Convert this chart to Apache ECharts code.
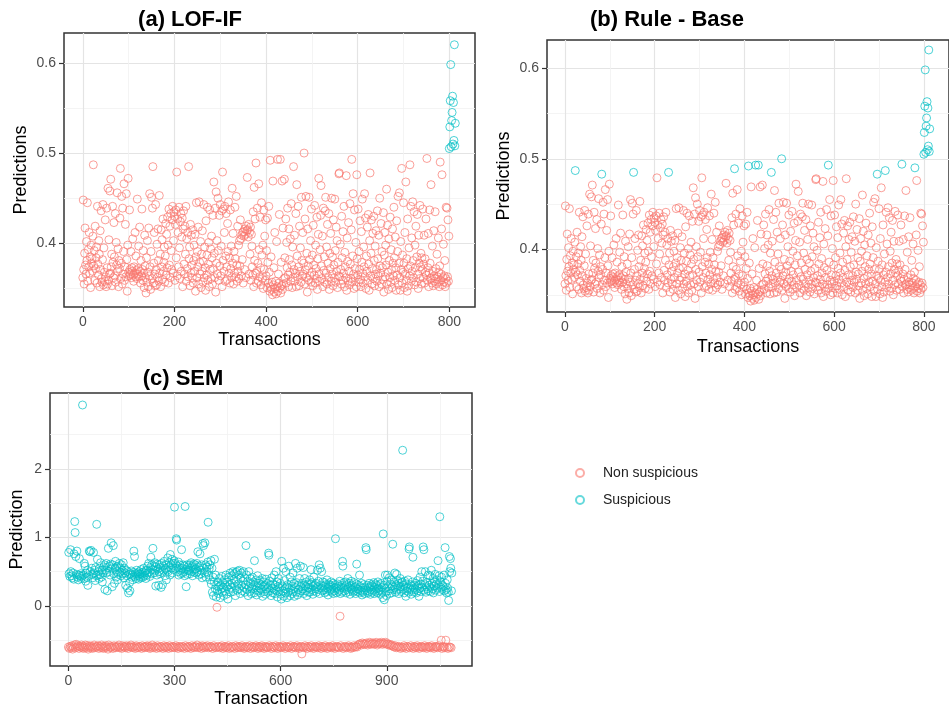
<!DOCTYPE html>
<html lang="en">
<head>
<meta charset="UTF-8">
<title>Transaction predictions</title>
<script src="https://cdn.jsdelivr.net/npm/echarts@6.0.0/dist/echarts.min.js"></script>
<style>
  html, body { margin: 0; padding: 0; background: #fff; }
  #chart { width: 949px; height: 713px; }
</style>
</head>
<body>
<div id="chart"></div>
<script>
// predictions per transaction, x = transaction index (same scores in panels a and b)
var lofPred = [
  0.362,0.448,0.371,0.355,0.389,0.417,0.376,0.366,0.402,0.381,0.445,0.358,0.393,0.374,0.412,0.367,0.385,0.351,0.398,0.378,
  0.383,0.369,0.408,0.487,0.375,0.392,0.359,0.419,0.372,0.384,0.396,0.356,0.441,0.377,0.365,0.403,0.388,0.352,0.414,0.371,
  0.436,0.361,0.357,0.382,0.443,0.354,0.395,0.368,0.358,0.426,0.363,0.352,0.439,0.373,0.355,0.461,0.359,0.404,0.366,0.458,
  0.367,0.471,0.374,0.388,0.353,0.441,0.379,0.362,0.423,0.385,0.364,0.433,0.357,0.401,0.376,0.456,0.369,0.394,0.352,0.381,
  0.372,0.428,0.483,0.361,0.378,0.452,0.355,0.439,0.366,0.391,0.466,0.359,0.374,0.421,0.363,0.455,0.382,0.347,0.398,0.472,
  0.368,0.364,0.437,0.371,0.366,0.391,0.362,0.373,0.369,0.405,0.365,0.358,0.374,0.367,0.412,0.363,0.386,0.37,0.361,0.449,
  0.366,0.372,0.397,0.363,0.418,0.369,0.356,0.381,0.364,0.438,0.371,0.359,0.392,0.367,0.351,0.409,0.375,0.362,0.345,0.384,
  0.357,0.403,0.368,0.352,0.417,0.364,0.455,0.374,0.349,0.391,0.451,0.361,0.439,0.485,0.356,0.378,0.412,0.366,0.353,0.443,
  0.371,0.354,0.399,0.362,0.416,0.381,0.358,0.453,0.367,0.388,0.352,0.415,0.374,0.404,0.36,0.427,0.369,0.379,0.396,0.357,
  0.386,0.422,0.365,0.41,0.373,0.429,0.398,0.356,0.438,0.376,0.419,0.362,0.433,0.392,0.371,0.426,0.441,0.367,0.403,0.435,
  0.43,0.359,0.421,0.437,0.384,0.479,0.364,0.427,0.412,0.374,0.44,0.395,0.361,0.424,0.433,0.369,0.407,0.428,0.352,0.416,
  0.436,0.377,0.366,0.419,0.388,0.441,0.358,0.405,0.372,0.412,0.363,0.485,0.383,0.396,0.353,0.421,0.367,0.409,0.376,0.362,
  0.415,0.356,0.381,0.398,0.369,0.41,0.347,0.385,0.445,0.362,0.391,0.374,0.418,0.355,0.446,0.379,0.366,0.402,0.351,0.388,
  0.369,0.414,0.357,0.38,0.443,0.362,0.396,0.373,0.348,0.425,0.365,0.387,0.44,0.359,0.377,0.401,0.352,0.437,0.371,0.394,
  0.361,0.408,0.384,0.355,0.431,0.372,0.468,0.389,0.362,0.439,0.346,0.457,0.378,0.403,0.366,0.45,0.392,0.359,0.431,0.375,
  0.443,0.364,0.397,0.436,0.352,0.479,0.381,0.438,0.369,0.412,0.441,0.358,0.386,0.433,0.374,0.36,0.422,0.391,0.446,0.367,
  0.384,0.356,0.437,0.372,0.397,0.362,0.461,0.378,0.411,0.355,0.391,0.367,0.44,0.383,0.363,0.452,0.376,0.358,0.419,0.369,
  0.398,0.361,0.403,0.375,0.426,0.405,0.364,0.409,0.382,0.412,0.356,0.413,0.408,0.371,0.416,0.41,0.362,0.419,0.414,0.473,
  0.415,0.407,0.421,0.366,0.412,0.388,0.418,0.359,0.41,0.397,0.374,0.365,0.435,0.352,0.462,0.381,0.427,0.367,0.489,0.356,
  0.369,0.439,0.378,0.358,0.466,0.393,0.363,0.429,0.373,0.354,0.445,0.387,0.361,0.398,0.35,0.437,0.371,0.408,0.359,0.426,
  0.364,0.392,0.351,0.428,0.379,0.356,0.441,0.368,0.347,0.492,0.352,0.385,0.349,0.357,0.343,0.469,0.354,0.373,0.346,0.412,
  0.35,0.358,0.344,0.402,0.352,0.493,0.347,0.366,0.356,0.432,0.351,0.493,0.345,0.379,0.353,0.469,0.349,0.417,0.355,0.361,
  0.471,0.384,0.362,0.427,0.356,0.401,0.373,0.439,0.365,0.352,0.416,0.382,0.368,0.405,0.358,0.444,0.376,0.351,0.396,0.362,
  0.485,0.371,0.409,0.358,0.367,0.433,0.352,0.465,0.386,0.363,0.441,0.374,0.353,0.419,0.369,0.395,0.357,0.451,0.381,0.364,
  0.412,0.366,0.378,0.5,0.355,0.427,0.371,0.452,0.362,0.389,0.346,0.416,0.375,0.359,0.451,0.382,0.364,0.403,0.357,0.438,
  0.368,0.387,0.353,0.42,0.376,0.365,0.442,0.356,0.398,0.372,0.361,0.429,0.349,0.383,0.41,0.472,0.366,0.358,0.393,0.431,
  0.464,0.375,0.361,0.408,0.352,0.439,0.37,0.385,0.357,0.436,0.451,0.367,0.396,0.355,0.421,0.378,0.362,0.433,0.349,0.389,
  0.372,0.411,0.358,0.45,0.366,0.385,0.353,0.426,0.376,0.362,0.449,0.392,0.357,0.418,0.369,0.403,0.351,0.379,0.364,0.477,
  0.478,0.363,0.399,0.371,0.355,0.43,0.384,0.359,0.413,0.367,0.441,0.352,0.39,0.374,0.362,0.475,0.348,0.406,0.38,0.358,
  0.423,0.369,0.354,0.444,0.377,0.361,0.415,0.493,0.357,0.386,0.455,0.366,0.35,0.437,0.372,0.362,0.401,0.352,0.476,0.383,
  0.365,0.438,0.357,0.391,0.371,0.425,0.36,0.352,0.413,0.379,0.449,0.367,0.356,0.396,0.374,0.455,0.363,0.428,0.35,0.386,
  0.369,0.418,0.359,0.432,0.377,0.348,0.403,0.478,0.364,0.389,0.426,0.355,0.372,0.411,0.361,0.43,0.381,0.353,0.397,0.366,
  0.414,0.371,0.358,0.436,0.383,0.364,0.409,0.352,0.45,0.375,0.367,0.422,0.355,0.391,0.373,0.36,0.434,0.346,0.387,0.412,
  0.363,0.398,0.376,0.46,0.355,0.42,0.368,0.349,0.405,0.381,0.362,0.429,0.357,0.393,0.371,0.351,0.416,0.378,0.364,0.44,
  0.384,0.359,0.407,0.373,0.348,0.425,0.365,0.391,0.452,0.354,0.378,0.456,0.362,0.348,0.402,0.371,0.483,0.356,0.387,0.368,
  0.445,0.378,0.351,0.412,0.366,0.468,0.359,0.383,0.347,0.427,0.372,0.353,0.395,0.364,0.487,0.375,0.441,0.358,0.406,0.369,
  0.446,0.381,0.362,0.435,0.354,0.398,0.373,0.419,0.357,0.385,0.432,0.366,0.35,0.409,0.378,0.361,0.442,0.374,0.389,0.355,
  0.384,0.371,0.438,0.362,0.377,0.409,0.356,0.383,0.368,0.427,0.365,0.494,0.359,0.373,0.411,0.352,0.367,0.437,0.378,0.361,
  0.465,0.362,0.356,0.397,0.369,0.353,0.414,0.364,0.358,0.435,0.361,0.372,0.355,0.388,0.363,0.357,0.406,0.368,0.352,0.375,
  0.49,0.359,0.366,0.416,0.476,0.354,0.362,0.399,0.357,0.364,0.381,0.352,0.361,0.44,0.356,0.439,0.363,0.426,0.358,0.408,
  0.505,0.529,0.558,0.598,0.507,0.536,0.545,0.563,0.51,0.556,0.514,0.62,0.508,0.533
];
var lofCutoff = 0.501;   // panel (a)
var ruleCutoff = 0.481;  // panel (b)

var semPred = [
  -0.6,0.78,0.47,-0.62,0.43,-0.59,0.82,0.5,-0.61,0.44,-0.58,0.41,-0.63,0.48,-0.6,0.39,0.76,-0.57,1.23,1.07,
  -0.61,0.72,-0.56,0.46,0.8,-0.6,0.42,-0.58,0.38,0.45,-0.62,0.69,-0.59,0.44,-0.6,0.47,0.4,-0.57,0.43,-0.61,
  2.93,-0.59,0.45,-0.62,0.4,0.62,-0.6,0.58,-0.57,0.36,0.48,-0.61,0.42,-0.58,0.52,0.3,-0.63,0.44,-0.6,0.8,
  -0.58,0.79,0.5,-0.61,0.81,-0.59,0.55,0.46,-0.62,0.41,-0.6,0.78,0.48,-0.57,0.52,-0.61,0.37,0.56,-0.59,0.44,
  1.19,-0.6,0.68,0.45,-0.58,0.5,-0.62,0.4,0.55,-0.59,0.46,0.63,-0.61,0.42,-0.57,0.52,0.35,-0.6,0.48,-0.62,
  0.57,-0.59,0.6,0.24,-0.61,0.52,-0.58,0.62,0.48,-0.6,0.22,0.56,-0.63,0.84,-0.57,0.5,0.58,-0.6,0.45,0.61,
  -0.61,0.92,0.54,-0.59,0.28,0.6,-0.62,0.88,0.47,-0.58,0.33,-0.6,0.55,0.65,-0.61,0.42,0.57,-0.59,0.5,0.38,
  -0.6,0.58,0.46,-0.57,0.62,-0.61,0.49,0.55,-0.6,0.44,0.6,-0.62,0.52,-0.58,0.47,0.63,-0.6,0.41,0.55,-0.59,
  0.48,-0.61,0.3,0.52,-0.58,0.44,-0.6,0.26,0.5,-0.62,0.19,0.46,-0.59,0.34,0.22,-0.6,0.47,-0.57,0.51,0.42,
  -0.6,0.45,0.38,-0.61,0.49,0.8,-0.59,0.72,0.43,-0.62,0.47,0.4,-0.58,0.52,-0.6,0.44,0.48,-0.61,0.39,0.46,
  0.5,-0.59,0.43,0.47,-0.6,0.41,0.53,-0.62,0.46,-0.58,0.49,0.42,-0.6,0.55,0.44,-0.61,0.48,-0.59,0.51,0.4,
  -0.6,0.52,0.45,-0.58,0.58,0.48,-0.61,0.62,-0.59,0.5,0.43,-0.62,0.56,0.71,-0.6,0.47,0.6,-0.57,0.53,0.84,
  -0.61,0.58,0.48,-0.59,0.63,0.52,-0.6,0.29,0.57,-0.62,0.45,0.61,-0.58,0.54,-0.6,0.3,0.5,-0.61,0.6,0.47,
  0.56,-0.59,0.27,0.62,-0.6,0.49,0.31,-0.62,0.58,0.52,-0.58,0.65,-0.6,0.44,0.55,-0.61,0.6,0.38,-0.59,0.52,
  -0.6,0.7,0.5,-0.62,0.57,0.63,-0.58,0.45,0.75,-0.6,0.55,0.6,-0.61,0.68,0.48,-0.59,0.62,0.53,-0.6,0.66,
  1.44,-0.61,0.62,0.55,-0.58,0.98,0.96,-0.6,0.58,0.5,-0.62,0.64,0.45,-0.59,0.55,0.6,-0.6,0.52,0.47,-0.61,
  0.82,0.55,-0.59,0.48,0.6,-0.6,0.5,0.58,-0.62,0.44,1.45,-0.58,0.53,0.28,-0.6,0.6,0.46,-0.61,0.57,0.52,
  -0.59,0.51,0.6,-0.6,0.47,0.55,-0.62,0.63,0.5,-0.58,0.58,0.44,-0.6,0.56,0.61,-0.61,0.49,0.53,-0.59,0.6,
  0.54,-0.6,0.48,0.62,-0.57,0.5,0.79,-0.61,0.56,0.45,-0.6,0.58,0.76,-0.59,0.52,0.47,-0.62,0.6,0.41,-0.58,
  0.91,-0.6,0.88,0.55,-0.61,0.48,0.92,-0.59,0.6,0.42,-0.6,0.57,0.5,-0.58,0.64,1.22,-0.61,0.45,0.54,-0.6,
  0.6,0.38,-0.59,0.66,0.32,-0.6,0.55,0.2,-0.62,0.42,0.15,-0.58,0.35,0.68,-0.6,0.25,0.45,-0.61,0.13,0.3,
  -0.02,0.22,-0.6,0.35,0.18,-0.59,0.28,0.4,-0.61,0.12,0.3,-0.6,0.25,0.43,-0.58,0.2,0.34,-0.62,0.27,0.15,
  -0.6,0.38,0.22,-0.59,0.3,0.45,-0.61,0.17,0.28,-0.6,0.35,0.1,-0.58,0.42,0.24,-0.62,0.31,0.48,-0.6,0.2,
  0.27,-0.61,0.44,0.33,-0.59,0.5,0.21,-0.6,0.38,0.47,-0.62,0.29,0.15,-0.58,0.49,0.36,-0.6,0.23,0.51,-0.61,
  0.32,0.45,-0.59,0.25,0.52,-0.6,0.18,0.4,-0.61,0.3,0.48,-0.58,0.22,0.36,-0.6,0.5,0.27,-0.62,0.41,0.2,
  -0.6,0.31,0.88,-0.59,0.45,0.24,-0.61,0.36,0.15,-0.6,0.5,0.28,-0.58,0.21,0.4,-0.62,0.33,0.18,-0.6,0.27,
  0.42,-0.59,0.25,0.35,-0.61,0.19,0.66,-0.6,0.3,0.23,-0.58,0.38,0.16,-0.6,0.29,0.44,-0.62,0.22,0.33,-0.59,
  0.26,-0.6,0.37,0.19,-0.61,0.31,0.24,-0.58,0.4,0.14,-0.6,0.28,0.35,-0.62,0.21,0.3,-0.59,0.17,0.39,-0.6,
  0.25,-0.61,0.33,0.2,-0.6,0.27,0.77,0.74,-0.58,0.36,0.22,-0.6,0.3,0.15,-0.62,0.41,0.26,-0.59,0.19,0.32,
  -0.6,0.24,0.45,-0.61,0.18,0.3,-0.58,0.5,0.22,-0.6,0.35,0.13,-0.62,0.28,0.4,-0.59,0.21,0.26,-0.6,0.33,
  0.17,-0.61,0.1,0.65,-0.6,0.29,0.22,-0.58,0.55,0.14,-0.6,0.37,0.25,-0.62,0.19,0.5,-0.59,0.28,0.12,-0.6,
  0.31,0.2,-0.61,0.58,0.26,-0.6,0.15,0.42,-0.58,0.23,0.35,-0.62,0.18,0.29,-0.6,0.48,0.21,-0.59,0.33,0.14,
  -0.6,0.27,0.62,-0.61,0.2,0.34,-0.58,0.55,0.16,-0.6,0.3,0.24,-0.62,0.4,0.19,-0.6,0.58,0.28,-0.59,0.22,
  -0.7,0.33,0.25,-0.6,0.56,0.18,-0.61,0.3,0.4,-0.58,0.22,0.28,-0.6,0.35,0.15,-0.62,0.27,0.32,-0.59,0.2,
  0.26,-0.6,0.38,0.2,-0.61,0.31,0.53,-0.58,0.24,0.34,-0.6,0.17,0.29,-0.62,0.42,0.22,-0.6,0.3,0.25,-0.59,
  0.33,0.2,-0.6,0.28,0.52,-0.61,0.24,0.36,-0.58,0.6,0.18,-0.6,0.55,0.3,-0.62,0.26,0.5,-0.59,0.22,0.35,
  -0.6,0.29,0.23,-0.61,0.34,0.19,-0.58,0.27,0.31,-0.6,0.21,0.38,-0.62,0.25,0.16,-0.6,0.32,0.28,-0.59,0.22,
  0.3,-0.6,0.24,0.35,-0.61,0.2,0.28,-0.58,0.33,0.18,-0.6,0.26,0.22,-0.62,0.31,0.98,-0.6,0.27,0.19,-0.59,
  0.25,0.32,-0.6,0.21,0.29,-0.61,0.23,0.36,-0.15,0.18,-0.58,0.27,0.3,-0.6,0.2,0.65,0.58,-0.62,0.26,0.34,
  -0.6,0.22,0.28,-0.59,0.35,0.19,-0.61,0.31,0.24,-0.6,0.4,0.27,-0.58,0.21,0.33,-0.6,0.17,0.29,-0.62,0.25,
  0.36,-0.6,0.23,0.3,-0.61,0.2,0.27,-0.58,0.34,0.22,-0.6,0.28,0.18,-0.59,0.32,0.61,-0.6,0.25,0.21,-0.57,
  0.3,0.24,-0.56,0.45,0.19,-0.55,0.28,0.22,-0.57,0.33,0.16,-0.54,0.26,0.2,-0.56,0.31,0.23,-0.55,0.18,0.27,
  -0.56,0.85,0.82,-0.54,0.22,0.3,-0.57,0.19,0.26,-0.55,0.33,0.21,-0.53,0.28,0.17,-0.56,0.24,0.31,-0.55,0.2,
  0.29,-0.54,0.23,0.34,-0.56,0.18,0.27,-0.55,0.32,0.21,-0.53,0.25,0.3,-0.57,0.19,0.35,-0.55,0.26,0.22,-0.54,
  0.31,0.24,-0.55,0.17,0.33,-0.53,0.27,0.2,-0.56,0.12,1.05,-0.54,0.3,0.09,-0.55,0.26,0.45,-0.53,0.21,0.15,
  -0.56,0.36,0.45,-0.55,0.28,0.22,-0.57,0.41,0.18,-0.56,0.32,0.25,-0.58,0.38,0.19,-0.57,0.29,0.9,-0.59,0.24,
  0.35,-0.6,0.27,0.48,-0.58,0.2,0.31,-0.61,0.46,0.23,-0.6,0.37,0.29,-0.59,0.18,0.33,-0.6,0.25,0.4,-0.62,
  0.28,0.21,-0.6,0.34,0.35,2.27,-0.61,0.24,0.3,-0.58,0.19,0.36,-0.6,0.27,0.14,-0.62,0.32,0.22,-0.59,0.26,
  0.38,-0.6,0.2,0.83,0.86,-0.61,0.25,0.31,-0.58,0.17,0.29,-0.6,0.23,0.35,0.71,-0.62,0.26,0.2,-0.59,0.3,
  -0.6,0.24,0.33,-0.61,0.19,0.28,-0.58,0.37,0.22,-0.6,0.3,0.14,-0.62,0.26,0.42,-0.6,0.21,0.32,-0.59,0.5,
  0.27,-0.6,0.36,0.86,-0.61,0.82,0.23,-0.58,0.31,0.5,-0.6,0.2,0.28,-0.62,0.34,0.25,-0.6,0.45,0.22,-0.59,
  0.3,-0.6,0.44,0.27,-0.61,0.21,0.52,-0.58,0.33,0.25,-0.6,0.4,0.19,-0.62,0.29,0.35,-0.6,0.46,0.23,-0.59,
  0.32,-0.6,0.38,0.26,-0.61,0.66,0.3,-0.58,0.44,0.21,1.3,-0.6,0.35,0.27,-0.5,0.42,-0.62,0.24,0.3,-0.6,
  0.28,-0.59,0.45,0.22,-0.61,0.85,0.33,-0.5,0.24,0.19,-0.6,0.38,0.26,-0.62,0.2,0.08,-0.6,0.72,0.5,-0.6,
  0.69,0.55,-0.61,0.22,0.48
];
var semCutoff = 0.05;

var lofXTicks = [0, 200, 400, 600, 800];
var lofXMinor = [100, 300, 500, 700];
var lofYTicks = [0.4, 0.5, 0.6];
var lofYMinor = [0.35, 0.45, 0.55];
var semXTicks = [0, 300, 600, 900];
var semXMinor = [150, 450, 750, 1050];
var semYTicks = [0, 1, 2];
var semYMinor = [-0.5, 0.5, 1.5, 2.5];

var RED = '#F8766D';
var CYAN = '#00BFC4';
var FONT = 'Liberation Sans';

// split scores into the two classes by a cutoff
function classify(values, cutoff) {
    var non = [], sus = [];
    values.forEach(function (v, i) {
        if (v > cutoff) sus.push([i, v]);
        else non.push([i, v]);
    });
    return {non: non, sus: sus};
}

function majorAxis(grid, min, max, ticks, name, nameGap) {
    return {
        type: 'value', gridIndex: grid, min: min, max: max,
        name: name, nameLocation: 'middle', nameGap: nameGap,
        nameTextStyle: {fontSize: 18, color: '#000', fontFamily: FONT},
        axisLine: {show: false, onZero: false},
        axisTick: {show: true, customValues: ticks, length: 5, lineStyle: {color: '#333', width: 1.2}},
        axisLabel: {customValues: ticks, fontSize: 14, color: '#4d4d4d', margin: 8, fontFamily: FONT},
        splitLine: {show: true, lineStyle: {color: '#e4e4e4', width: 1.2}}
    };
}

function minorAxis(grid, min, max, ticks) {
    return {
        type: 'value', gridIndex: grid, min: min, max: max,
        axisLine: {show: false, onZero: false},
        axisLabel: {show: false},
        axisTick: {show: false, customValues: ticks},
        splitLine: {show: true, lineStyle: {color: '#f1f1f1', width: 0.8}}
    };
}

function scatter(name, data, color, idx) {
    return {
        type: 'scatter', name: name, data: data,
        xAxisIndex: idx, yAxisIndex: idx,
        symbol: 'circle', symbolSize: 8, silent: true,
        itemStyle: {color: 'rgba(255,255,255,0)', borderColor: color, borderWidth: 1, opacity: 0.7}
    };
}

var a = classify(lofPred, lofCutoff);
var b = classify(lofPred, ruleCutoff);
var c = classify(semPred, semCutoff);

var chart = echarts.init(document.getElementById('chart'));
chart.setOption({
    animation: false,
    backgroundColor: '#fff',
    grid: [
        {left: 64, top: 33, width: 411, height: 274, show: true, borderColor: '#333', borderWidth: 1.5},
        {left: 547, top: 40, width: 411, height: 272, show: true, borderColor: '#333', borderWidth: 1.5},
        {left: 50, top: 393, width: 422, height: 273, show: true, borderColor: '#333', borderWidth: 1.5}
    ],
    xAxis: [
        majorAxis(0, -41, 856, lofXTicks, 'Transactions', 24),
        majorAxis(1, -40, 856, lofXTicks, 'Transactions', 26),
        majorAxis(2, -52, 1141, semXTicks, 'Transaction', 24),
        minorAxis(0, -41, 856, lofXMinor),
        minorAxis(1, -40, 856, lofXMinor),
        minorAxis(2, -52, 1141, semXMinor)
    ],
    yAxis: [
        majorAxis(0, 0.3295, 0.633, lofYTicks, 'Predictions', 34),
        majorAxis(1, 0.331, 0.631, lofYTicks, 'Predictions', 34),
        majorAxis(2, -0.876, 3.105, semYTicks, 'Prediction', 24),
        minorAxis(0, 0.3295, 0.633, lofYMinor),
        minorAxis(1, 0.331, 0.631, lofYMinor),
        minorAxis(2, -0.876, 3.105, semYMinor)
    ],
    legend: {
        data: ['Non suspicious', 'Suspicious'],
        orient: 'vertical', left: 570, top: 461,
        itemWidth: 36, itemHeight: 8, itemGap: 13,
        itemStyle: {opacity: 0.6},
        textStyle: {fontSize: 14, color: '#222', fontFamily: FONT}
    },
    graphic: [
        {type: 'text', x: 190, y: 20, style: {text: '(a) LOF-IF', font: 'bold 22px "Liberation Sans"', fill: '#000', align: 'center', verticalAlign: 'middle'}},
        {type: 'text', x: 667, y: 20, style: {text: '(b) Rule - Base', font: 'bold 22px "Liberation Sans"', fill: '#000', align: 'center', verticalAlign: 'middle'}},
        {type: 'text', x: 183, y: 379, style: {text: '(c) SEM', font: 'bold 22px "Liberation Sans"', fill: '#000', align: 'center', verticalAlign: 'middle'}}
    ],
    series: [
        scatter('Non suspicious', a.non, RED, 0),
        scatter('Suspicious', a.sus, CYAN, 0),
        scatter('Non suspicious', b.non, RED, 1),
        scatter('Suspicious', b.sus, CYAN, 1),
        scatter('Non suspicious', c.non, RED, 2),
        scatter('Suspicious', c.sus, CYAN, 2)
    ]
});
</script>
</body>
</html>
